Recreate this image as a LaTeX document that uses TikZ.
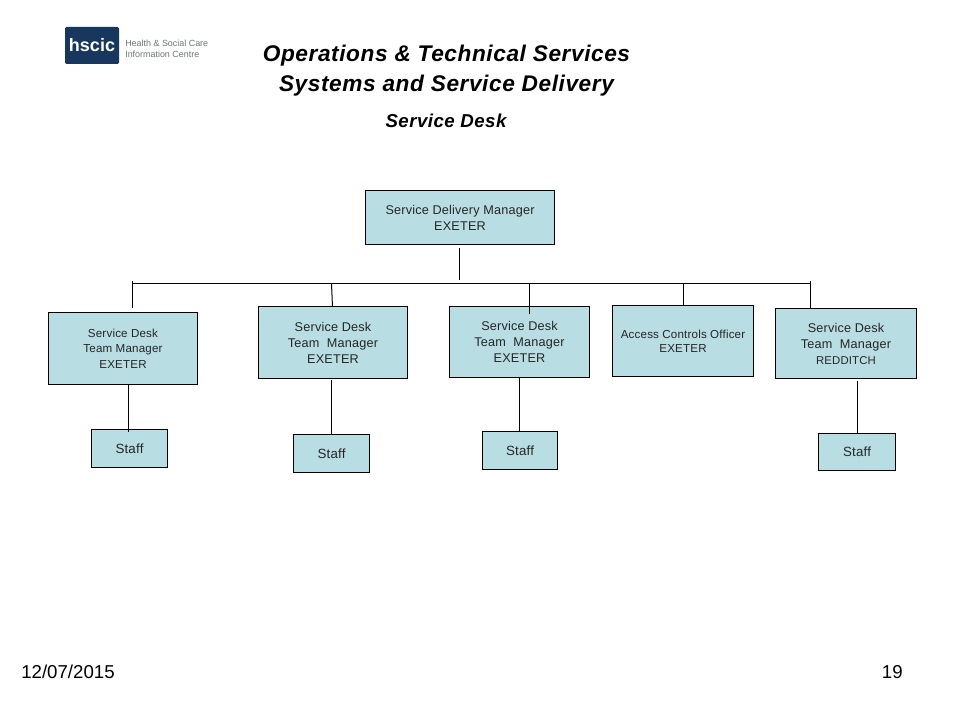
\documentclass[tikz,border=0pt]{standalone}
\usepackage{fontspec}
\setmainfont{Liberation Sans}
\definecolor{boxfill}{HTML}{B8DDE3}
\definecolor{logoblue}{HTML}{17375E}
\definecolor{logogray}{HTML}{6E7478}
\newcommand{\pxfont}[2]{\fontsize{#1}{#2}\selectfont\addfontfeature{LetterSpace=1.5}}
\newcommand{\titlefont}[2]{\fontsize{#1}{#2}\selectfont\bfseries\itshape\addfontfeature{LetterSpace=2.5}}
\tikzset{
  x=0.75pt,y=-0.75pt,
  orgbox/.style={draw=black,line width=0.75pt,fill=boxfill,align=center,inner sep=0pt,text=black!85},
  boxsize/.style n args={2}{minimum width={#1*0.75pt},minimum height={#2*0.75pt}},
  link/.style={draw=black,line width=0.75pt},
  title/.style={inner sep=0pt,align=center,text=black}
}
\begin{document}
\begin{tikzpicture}
\useasboundingbox (0,0) rectangle (960,720);
\fill[white] (0,0) rectangle (960,720);
% logo
\node[fill=logoblue,rounded corners=1pt,boxsize={54}{37},inner sep=0pt,text=white,font=\fontsize{13.5}{15}\selectfont\bfseries] (logo) at (92,45.5) {\raisebox{-1.5pt}{hscic}};
\node[anchor=west,inner sep=0pt,align=left,text=logogray,font=\fontsize{6.7}{8}\selectfont] (logotext) at (125,48.5) {Health \& Social Care\\Information Centre};
% titles
\node[title,font=\titlefont{17}{22.5}] (t1) at (446.5,70.5) {Operations \& Technical Services\\Systems and Service Delivery};
\node[title,font=\titlefont{14}{16}] (t2) at (446,121) {Service Desk};
% boxes
\node[orgbox,boxsize={189}{54},font=\pxfont{9.5}{12}] (top) at (460,217.5) {Service Delivery Manager\\EXETER};
\node[orgbox,boxsize={149}{72},font=\pxfont{8.7}{11.6}] (a) at (123,348.5) {Service Desk\\Team Manager\\EXETER};
\node[orgbox,boxsize={149}{72},font=\pxfont{9.5}{12}] (b) at (333,342.5) {Service Desk\\Team\ \ Manager\\EXETER};
\node[orgbox,boxsize={140}{71},font=\pxfont{9.5}{12}] (c) at (519.5,342) {Service Desk\\Team\ \ Manager\\EXETER};
\node[orgbox,boxsize={141}{71},font=\pxfont{8.7}{10.8}] (d) at (683,341) {Access Controls Officer\\EXETER};
\node[orgbox,boxsize={141}{70},font=\pxfont{9.5}{12}] (e) at (846,343.5) {Service Desk\\Team\ \ Manager\\{\fontsize{8.5}{12}\selectfont REDDITCH}};
\node[orgbox,boxsize={76}{38},font=\pxfont{10}{12}] (s1) at (129.5,448.5) {Staff};
\node[orgbox,boxsize={76}{38},font=\pxfont{10}{12}] (s2) at (331.5,453.5) {Staff};
\node[orgbox,boxsize={75}{38},font=\pxfont{10}{12}] (s3) at (520,450.5) {Staff};
\node[orgbox,boxsize={77}{37},font=\pxfont{10}{12}] (s4) at (857,452) {Staff};
% bus
\coordinate (busL) at (132.5,283.5);
\coordinate (busR) at (810.5,283.5);
\coordinate (busT) at (459.5,280.5);
\draw[link] (busL) -- (busR);
\draw[link] (459.5,248) -- (busT);
\coordinate (da) at (132.5,308);
\coordinate (db) at (332.5,307);
\coordinate (dc) at (529.5,314);
\coordinate (dd) at (683.5,306);
\coordinate (de) at (810.5,309);
\draw[link] (132.5,281) -- (da);
\draw[link] (331.5,283.5) -- (db);
\draw[link] (529.5,283.5) -- (dc);
\draw[link] (683.5,283.5) -- (dd);
\draw[link] (810.5,281) -- (de);
% staff links
\draw[link] (128.5,432) -- (128.5,384.5);
\draw[link] (331.5,434.5) -- (331.5,380);
\draw[link] (519.5,431.5) -- (519.5,377.5);
\draw[link] (857.5,433.5) -- (857.5,381);
% footer
\node[anchor=west,inner sep=0pt,font=\fontsize{14}{16}\selectfont] (date) at (21,672) {12/07/2015};
\node[anchor=east,inner sep=0pt,font=\fontsize{14}{16}\selectfont] (num) at (903,672) {19};
\end{tikzpicture}
\end{document}
